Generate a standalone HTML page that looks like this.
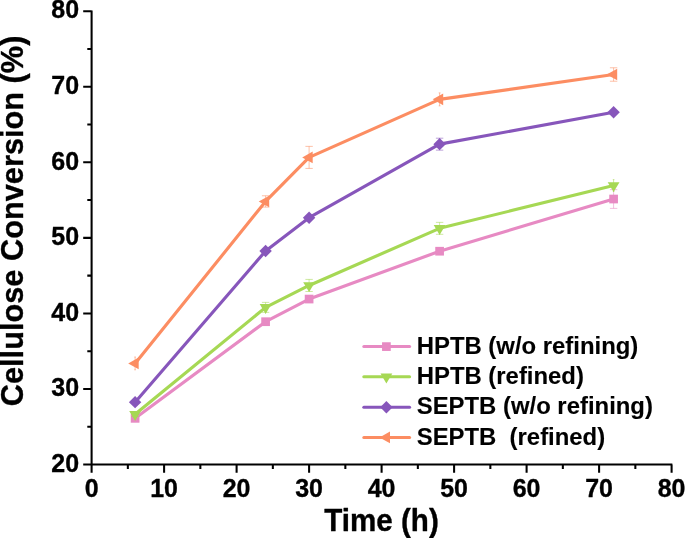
<!DOCTYPE html><html><head><meta charset="utf-8"><title>Cellulose Conversion</title><style>html,body{margin:0;padding:0;background:#fff}svg{display:block}</style></head><body><svg width="685" height="538" viewBox="0 0 685 538" font-family="'Liberation Sans', Arial, sans-serif" font-weight="bold" stroke="#000" stroke-width="0.35" stroke-linejoin="round">
<rect width="685" height="538" fill="#fff" stroke="none"/>
<path d="M135.10 416.07V420.61M131.40 416.07H138.80M131.40 420.61H138.80" stroke="#E78AC3" stroke-width="0.7" stroke-opacity="0.8" fill="none"/>
<path d="M265.60 318.69V324.73M261.90 318.69H269.30M261.90 324.73H269.30" stroke="#E78AC3" stroke-width="0.7" stroke-opacity="0.8" fill="none"/>
<path d="M309.10 296.02V302.07M305.40 296.02H312.80M305.40 302.07H312.80" stroke="#E78AC3" stroke-width="0.7" stroke-opacity="0.8" fill="none"/>
<path d="M439.60 248.96V253.49M435.90 248.96H443.30M435.90 253.49H443.30" stroke="#E78AC3" stroke-width="0.7" stroke-opacity="0.8" fill="none"/>
<path d="M613.60 189.65V208.39M609.90 189.65H617.30M609.90 208.39H617.30" stroke="#E78AC3" stroke-width="0.7" stroke-opacity="0.8" fill="none"/>
<polyline points="135.10,418.34 265.60,321.71 309.10,299.05 439.60,251.22 613.60,199.02" fill="none" stroke="#E78AC3" stroke-width="3.15" stroke-linejoin="round"/>
<rect x="130.75" y="413.99" width="8.70" height="8.70" fill="#E78AC3" stroke="none"/>
<rect x="261.25" y="317.36" width="8.70" height="8.70" fill="#E78AC3" stroke="none"/>
<rect x="304.75" y="294.70" width="8.70" height="8.70" fill="#E78AC3" stroke="none"/>
<rect x="435.25" y="246.87" width="8.70" height="8.70" fill="#E78AC3" stroke="none"/>
<rect x="609.25" y="194.67" width="8.70" height="8.70" fill="#E78AC3" stroke="none"/>
<path d="M135.10 412.07V416.60M131.40 412.07H138.80M131.40 416.60H138.80" stroke="#A6D854" stroke-width="0.7" stroke-opacity="0.8" fill="none"/>
<path d="M265.60 302.37V312.34M261.90 302.37H269.30M261.90 312.34H269.30" stroke="#A6D854" stroke-width="0.7" stroke-opacity="0.8" fill="none"/>
<path d="M309.10 279.40V291.49M305.40 279.40H312.80M305.40 291.49H312.80" stroke="#A6D854" stroke-width="0.7" stroke-opacity="0.8" fill="none"/>
<path d="M439.60 222.36V234.30M435.90 222.36H443.30M435.90 234.30H443.30" stroke="#A6D854" stroke-width="0.7" stroke-opacity="0.8" fill="none"/>
<path d="M613.60 179.60V191.39M612.80 179.60H614.40M612.80 191.39H614.40" stroke="#A6D854" stroke-width="0.7" stroke-opacity="0.8" fill="none"/>
<polyline points="135.10,414.33 265.60,307.36 309.10,285.45 439.60,228.33 613.60,185.49" fill="none" stroke="#A6D854" stroke-width="3.15" stroke-linejoin="round"/>
<polygon points="129.20,411.03 141.00,411.03 135.10,420.93" fill="#A6D854" stroke="none"/>
<polygon points="259.70,304.06 271.50,304.06 265.60,313.96" fill="#A6D854" stroke="none"/>
<polygon points="303.20,282.15 315.00,282.15 309.10,292.05" fill="#A6D854" stroke="none"/>
<polygon points="433.70,225.03 445.50,225.03 439.60,234.93" fill="#A6D854" stroke="none"/>
<polygon points="607.70,182.19 619.50,182.19 613.60,192.09" fill="#A6D854" stroke="none"/>
<path d="M135.10 400.66V403.68M131.40 400.66H138.80M131.40 403.68H138.80" stroke="#8756BB" stroke-width="0.7" stroke-opacity="0.8" fill="none"/>
<path d="M265.60 249.48V252.51M261.90 249.48H269.30M261.90 252.51H269.30" stroke="#8756BB" stroke-width="0.7" stroke-opacity="0.8" fill="none"/>
<path d="M309.10 216.17V219.19M305.40 216.17H312.80M305.40 219.19H312.80" stroke="#8756BB" stroke-width="0.7" stroke-opacity="0.8" fill="none"/>
<path d="M439.60 138.20V150.14M435.90 138.20H443.30M435.90 150.14H443.30" stroke="#8756BB" stroke-width="0.7" stroke-opacity="0.8" fill="none"/>
<path d="M613.60 110.77V113.80M609.90 110.77H617.30M609.90 113.80H617.30" stroke="#8756BB" stroke-width="0.7" stroke-opacity="0.8" fill="none"/>
<polyline points="135.10,402.17 265.60,251.00 309.10,217.68 439.60,144.17 613.60,112.29" fill="none" stroke="#8756BB" stroke-width="3.15" stroke-linejoin="round"/>
<polygon points="128.90,402.17 135.10,395.97 141.30,402.17 135.10,408.37" fill="#8756BB" stroke="none"/>
<polygon points="259.40,251.00 265.60,244.80 271.80,251.00 265.60,257.20" fill="#8756BB" stroke="none"/>
<polygon points="302.90,217.68 309.10,211.48 315.30,217.68 309.10,223.88" fill="#8756BB" stroke="none"/>
<polygon points="433.40,144.17 439.60,137.97 445.80,144.17 439.60,150.37" fill="#8756BB" stroke="none"/>
<polygon points="607.40,112.29 613.60,106.09 619.80,112.29 613.60,118.49" fill="#8756BB" stroke="none"/>
<path d="M135.10 356.99V369.84M134.30 356.99H135.90M134.30 369.84H135.90" stroke="#FC8D62" stroke-width="0.7" stroke-opacity="0.8" fill="none"/>
<path d="M265.60 195.77V207.10M261.90 195.77H269.30M261.90 207.10H269.30" stroke="#FC8D62" stroke-width="0.7" stroke-opacity="0.8" fill="none"/>
<path d="M309.10 146.36V168.42M305.40 146.36H312.80M305.40 168.42H312.80" stroke="#FC8D62" stroke-width="0.7" stroke-opacity="0.8" fill="none"/>
<path d="M439.60 92.87V105.86M438.70 92.87H440.50M438.70 105.86H440.50" stroke="#FC8D62" stroke-width="0.7" stroke-opacity="0.8" fill="none"/>
<path d="M613.60 67.79V81.23M609.90 67.79H617.30M609.90 81.23H617.30" stroke="#FC8D62" stroke-width="0.7" stroke-opacity="0.8" fill="none"/>
<polyline points="135.10,363.41 265.60,201.43 309.10,157.39 439.60,99.37 613.60,74.51" fill="none" stroke="#FC8D62" stroke-width="3.15" stroke-linejoin="round"/>
<polygon points="128.20,363.41 138.70,357.61 138.70,369.21" fill="#FC8D62" stroke="none"/>
<polygon points="258.70,201.43 269.20,195.63 269.20,207.23" fill="#FC8D62" stroke="none"/>
<polygon points="302.20,157.39 312.70,151.59 312.70,163.19" fill="#FC8D62" stroke="none"/>
<polygon points="432.70,99.37 443.20,93.57 443.20,105.17" fill="#FC8D62" stroke="none"/>
<polygon points="606.70,74.51 617.20,68.71 617.20,80.31" fill="#FC8D62" stroke="none"/>
<path d="M91.60 10.45V465.25M90.85 464.50H672.35M83.20 464.50H91.60M87.30 426.73H91.60M83.20 388.95H91.60M87.30 351.18H91.60M83.20 313.40H91.60M87.30 275.62H91.60M83.20 237.85H91.60M87.30 200.07H91.60M83.20 162.30H91.60M87.30 124.53H91.60M83.20 86.75H91.60M87.30 48.98H91.60M83.20 11.20H91.60M91.60 464.50V472.80M127.85 464.50V469.00M164.10 464.50V472.80M200.35 464.50V469.00M236.60 464.50V472.80M272.85 464.50V469.00M309.10 464.50V472.80M345.35 464.50V469.00M381.60 464.50V472.80M417.85 464.50V469.00M454.10 464.50V472.80M490.35 464.50V469.00M526.60 464.50V472.80M562.85 464.50V469.00M599.10 464.50V472.80M635.35 464.50V469.00M671.60 464.50V472.80" stroke="#000" stroke-width="2.05" fill="none"/>
<text transform="translate(79.1 471.70) scale(1 1.045)" font-size="25" text-anchor="end">20</text>
<text transform="translate(79.1 396.15) scale(1 1.045)" font-size="25" text-anchor="end">30</text>
<text transform="translate(79.1 320.60) scale(1 1.045)" font-size="25" text-anchor="end">40</text>
<text transform="translate(79.1 245.05) scale(1 1.045)" font-size="25" text-anchor="end">50</text>
<text transform="translate(79.1 169.50) scale(1 1.045)" font-size="25" text-anchor="end">60</text>
<text transform="translate(79.1 93.95) scale(1 1.045)" font-size="25" text-anchor="end">70</text>
<text transform="translate(79.1 18.40) scale(1 1.045)" font-size="25" text-anchor="end">80</text>
<text transform="translate(91.60 496.6) scale(1 1.045)" font-size="25" text-anchor="middle">0</text>
<text transform="translate(164.10 496.6) scale(1 1.045)" font-size="25" text-anchor="middle">10</text>
<text transform="translate(236.60 496.6) scale(1 1.045)" font-size="25" text-anchor="middle">20</text>
<text transform="translate(309.10 496.6) scale(1 1.045)" font-size="25" text-anchor="middle">30</text>
<text transform="translate(381.60 496.6) scale(1 1.045)" font-size="25" text-anchor="middle">40</text>
<text transform="translate(454.10 496.6) scale(1 1.045)" font-size="25" text-anchor="middle">50</text>
<text transform="translate(526.60 496.6) scale(1 1.045)" font-size="25" text-anchor="middle">60</text>
<text transform="translate(599.10 496.6) scale(1 1.045)" font-size="25" text-anchor="middle">70</text>
<text transform="translate(671.60 496.6) scale(1 1.045)" font-size="25" text-anchor="middle">80</text>
<text transform="translate(381.5 530.5) scale(1 1.035)" font-size="29.6" text-anchor="middle">Time (h)</text>
<text transform="translate(23.05,220.9) scale(1.035,1) rotate(-90)" font-size="30.75" text-anchor="middle">Cellulose Conversion (%)</text>
<path d="M363.8 346.6H409.6" stroke="#E78AC3" stroke-width="3" stroke-linecap="round"/>
<rect x="382.05" y="342.25" width="8.70" height="8.70" fill="#E78AC3" stroke="none"/>
<text transform="translate(416.7 353.7) scale(1 1.025)" font-size="23.9" stroke-width="0.12" xml:space="preserve">HPTB (w/o refining)</text>
<path d="M363.8 376.8H409.6" stroke="#A6D854" stroke-width="3" stroke-linecap="round"/>
<polygon points="380.50,373.50 392.30,373.50 386.40,383.40" fill="#A6D854" stroke="none"/>
<text transform="translate(416.7 383.9) scale(1 1.025)" font-size="23.9" stroke-width="0.12" xml:space="preserve">HPTB (refined)</text>
<path d="M363.8 407.2H409.6" stroke="#8756BB" stroke-width="3" stroke-linecap="round"/>
<polygon points="380.20,407.20 386.40,401.00 392.60,407.20 386.40,413.40" fill="#8756BB" stroke="none"/>
<text transform="translate(416.7 414.3) scale(1 1.025)" font-size="23.9" stroke-width="0.12" xml:space="preserve">SEPTB (w/o refining)</text>
<path d="M363.8 437.4H409.6" stroke="#FC8D62" stroke-width="3" stroke-linecap="round"/>
<polygon points="379.50,437.40 390.00,431.60 390.00,443.20" fill="#FC8D62" stroke="none"/>
<text transform="translate(416.7 444.5) scale(1 1.025)" font-size="23.9" stroke-width="0.12" xml:space="preserve">SEPTB  (refined)</text>
</svg></body></html>
